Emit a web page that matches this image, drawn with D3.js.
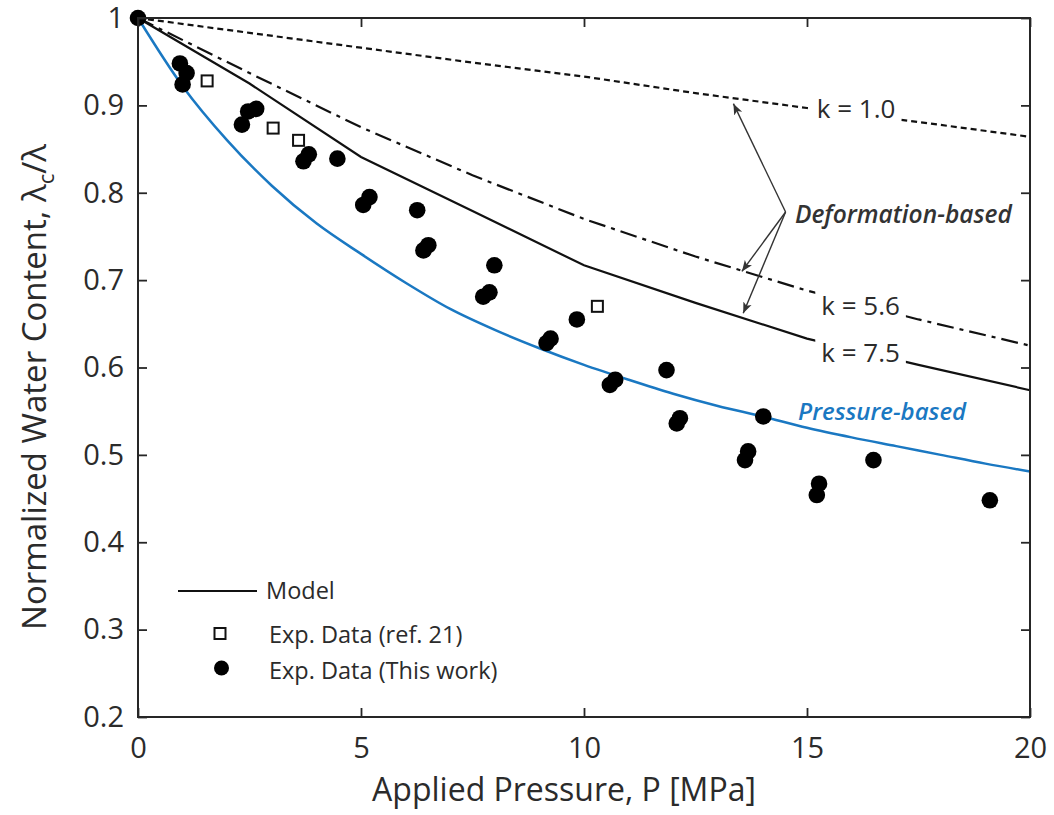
<!DOCTYPE html>
<html>
<head>
<meta charset="utf-8">
<script src="https://cdn.jsdelivr.net/npm/d3@7"></script>
<style>
  body { margin: 0; background: #fff; }
  svg { font-family: "Open Sans", sans-serif; }
</style>
</head>
<body>
<svg width="1054" height="815"></svg>
<script>
// ################################### Data #######################################

// Model curves (deformation-based), pressure in MPa
var pModel = [0, 2.5, 5, 7.5, 10, 12.5, 15, 17.5, 20];
var k10 = [1, 0.983, 0.966, 0.949, 0.933, 0.914, 0.897, 0.881, 0.864];
var k56 = [1, 0.937, 0.875, 0.82, 0.77, 0.727, 0.688, 0.655, 0.625];
var k75 = [1, 0.925, 0.841, 0.779, 0.717, 0.674, 0.633, 0.603, 0.574];

// Pressure-based model
var pPressure = [0, 1, 2, 3, 4, 5, 6, 7, 8, 9, 10, 11, 12, 13, 14, 15, 16, 17, 18, 19, 20];
var pressureBased = [1, 0.922, 0.86, 0.808, 0.765, 0.73, 0.697, 0.667, 0.643, 0.622, 0.603,
    0.586, 0.57, 0.556, 0.544, 0.531, 0.52, 0.51, 0.5, 0.49, 0.481];

// Exp. data (ref. 21)
var refP = [1.55, 3.03, 3.60, 10.30];
var refW = [0.928, 0.874, 0.860, 0.670];

// Exp. data (this work)
var expP = [0, 0.94, 1.09, 1.00, 2.33, 2.47, 2.65, 3.71, 3.83, 4.47, 5.05, 5.19, 6.26, 6.40, 6.51,
    7.99, 7.74, 7.88, 9.84, 9.16, 9.25, 10.58, 10.70, 11.85, 12.08, 12.15, 14.02, 13.61, 13.68,
    16.49, 15.22, 15.27, 19.10];
var expW = [1.0, 0.948, 0.937, 0.924, 0.878, 0.893, 0.896, 0.836, 0.844, 0.839, 0.786, 0.795, 0.780, 0.734, 0.740,
    0.717, 0.681, 0.686, 0.655, 0.628, 0.633, 0.580, 0.586, 0.597, 0.536, 0.542, 0.544, 0.494, 0.504,
    0.494, 0.454, 0.467, 0.448];

var xTicks = [0, 5, 10, 15, 20];
var yTicks = [0.2, 0.3, 0.4, 0.5, 0.6, 0.7, 0.8, 0.9, 1];

// ################################### Layout #######################################

var svg = d3.select('svg');
var plot = {l: 138, r: 1030, t: 18, b: 717};
var textColor = '#2b2b2b';
var blue = '#1a78c2';

var x = d3.scaleLinear().domain([0, 20]).range([plot.l, plot.r]);
var y = d3.scaleLinear().domain([0.2, 1]).range([plot.b, plot.t]);

function zip(xs, ys) {
    return xs.map(function(v, i) { return [v, ys[i]]; });
}

var line = d3.line()
    .x(function(d) { return x(d[0]); })
    .y(function(d) { return y(d[1]); });

var smoothLine = d3.line()
    .curve(d3.curveMonotoneX)
    .x(function(d) { return x(d[0]); })
    .y(function(d) { return y(d[1]); });

// arrow head
svg.append('defs').append('marker')
    .attr('id', 'arrow')
    .attr('viewBox', '0 0 10 10')
    .attr('refX', 10).attr('refY', 5)
    .attr('markerWidth', 11).attr('markerHeight', 11)
    .attr('markerUnits', 'userSpaceOnUse')
    .attr('orient', 'auto')
  .append('path')
    .attr('d', 'M0,1 L10,5 L0,9 L2.5,5 Z')
    .attr('fill', '#333');

// ################################### Curves #######################################

svg.append('path').datum(zip(pModel, k10))
    .attr('d', line).attr('fill', 'none')
    .attr('stroke', '#111').attr('stroke-width', 2.2)
    .attr('stroke-dasharray', '6,4');

svg.append('path').datum(zip(pModel, k56))
    .attr('d', line).attr('fill', 'none')
    .attr('stroke', '#111').attr('stroke-width', 2.2)
    .attr('stroke-dasharray', '17,6,4,6');

svg.append('path').datum(zip(pModel, k75))
    .attr('d', line).attr('fill', 'none')
    .attr('stroke', '#111').attr('stroke-width', 2.2);

svg.append('path').datum(zip(pPressure, pressureBased))
    .attr('d', smoothLine).attr('fill', 'none')
    .attr('stroke', blue).attr('stroke-width', 2.5);

// ################################### Curve labels #######################################

function curveLabel(px, pw, txt) {
    var g = svg.append('g');
    var t = g.append('text')
        .attr('x', x(px)).attr('y', y(pw))
        .attr('font-size', '26px')
        .attr('fill', textColor)
        .text(txt);
    var bb = t.node().getBBox();
    g.insert('rect', 'text')
        .attr('x', bb.x - 6).attr('y', bb.y + 3)
        .attr('width', bb.width + 12).attr('height', bb.height - 4)
        .attr('fill', '#fff');
}
curveLabel(15.22, 0.886, 'k = 1.0');
curveLabel(15.32, 0.66, 'k = 5.6');
curveLabel(15.32, 0.606, 'k = 7.5');

svg.append('text')
    .attr('x', x(14.73)).attr('y', y(0.765))
    .attr('font-size', '24.5px').attr('font-style', 'italic').attr('font-weight', 600)
    .attr('fill', '#333')
    .text('Deformation-based');

svg.append('text')
    .attr('x', x(14.8)).attr('y', y(0.54))
    .attr('font-size', '24px').attr('font-style', 'italic').attr('font-weight', 600)
    .attr('fill', blue)
    .text('Pressure-based');

// arrows from the "Deformation-based" label to the three curves
var arrowFrom = [14.52, 0.778];
var arrowTo = [[13.35, 0.902], [13.54, 0.71], [13.57, 0.662]];
arrowTo.forEach(function(d) {
    svg.append('line')
        .attr('x1', x(arrowFrom[0])).attr('y1', y(arrowFrom[1]))
        .attr('x2', x(d[0])).attr('y2', y(d[1]))
        .attr('stroke', '#333').attr('stroke-width', 1.4)
        .attr('marker-end', 'url(#arrow)');
});

// ################################### Markers #######################################

svg.append('g').selectAll('rect')
    .data(zip(refP, refW))
    .enter().append('rect')
    .attr('x', function(d) { return x(d[0]) - 5.5; })
    .attr('y', function(d) { return y(d[1]) - 5.5; })
    .attr('width', 11).attr('height', 11)
    .attr('fill', '#fff').attr('stroke', '#111').attr('stroke-width', 2);

svg.append('g').selectAll('circle')
    .data(zip(expP, expW))
    .enter().append('circle')
    .attr('cx', function(d) { return x(d[0]); })
    .attr('cy', function(d) { return y(d[1]); })
    .attr('r', 8.3)
    .attr('fill', '#000');

// ################################### Axes #######################################

var frame = '#262626';

svg.append('rect')
    .attr('x', plot.l).attr('y', plot.t)
    .attr('width', plot.r - plot.l).attr('height', plot.b - plot.t)
    .attr('fill', 'none').attr('stroke', frame).attr('stroke-width', 2);

var xAxis = svg.append('g')
    .attr('transform', 'translate(0,' + plot.b + ')')
    .call(d3.axisBottom(x).tickValues(xTicks).tickSize(-9).tickPadding(20));
var yAxis = svg.append('g')
    .attr('transform', 'translate(' + plot.l + ',0)')
    .call(d3.axisLeft(y).tickValues(yTicks).tickSize(-9).tickPadding(14)
        .tickFormat(function(d) { return d === 1 ? '1' : d.toFixed(1); }));
var xTop = svg.append('g')
    .attr('transform', 'translate(0,' + plot.t + ')')
    .call(d3.axisTop(x).tickValues(xTicks).tickSize(-9).tickFormat(''));
var yRight = svg.append('g')
    .attr('transform', 'translate(' + plot.r + ',0)')
    .call(d3.axisRight(y).tickValues(yTicks).tickSize(-9).tickFormat(''));

[xAxis, yAxis, xTop, yRight].forEach(function(a) {
    a.select('.domain').remove();
    a.selectAll('.tick line').attr('stroke', frame).attr('stroke-width', 1.8);
    a.selectAll('.tick text')
        .attr('font-family', '"Open Sans", sans-serif')
        .attr('font-size', '29px')
        .attr('fill', textColor);
});

// Axis titles
svg.append('text')
    .attr('x', 564).attr('y', 801)
    .attr('text-anchor', 'middle')
    .attr('font-size', '32px')
    .attr('fill', textColor)
    .text('Applied Pressure, P [MPa]');

var yTitle = svg.append('text')
    .attr('transform', 'translate(46,' + 387 + ') rotate(-90)')
    .attr('text-anchor', 'middle')
    .attr('font-size', '33px')
    .attr('fill', textColor);
yTitle.append('tspan').text('Normalized Water Content,  \u03bb');
yTitle.append('tspan').attr('font-size', '22px').attr('dy', 8).text('c');
yTitle.append('tspan').attr('dy', -8).text('/\u03bb');

// ################################### Legend #######################################

var legendG = svg.append('g');
legendG.append('line')
    .attr('x1', 178).attr('x2', 257).attr('y1', 591).attr('y2', 591)
    .attr('stroke', '#111').attr('stroke-width', 2.2);
legendG.append('text').attr('x', 266).attr('y', 599)
    .attr('font-size', '23.5px').attr('fill', textColor).text('Model');

legendG.append('rect')
    .attr('x', 214.5).attr('y', 628).attr('width', 11).attr('height', 11)
    .attr('fill', '#fff').attr('stroke', '#111').attr('stroke-width', 2);
legendG.append('text').attr('x', 269).attr('y', 643)
    .attr('font-size', '23.5px').attr('fill', textColor).text('Exp. Data (ref. 21)');

legendG.append('circle')
    .attr('cx', 221.5).attr('cy', 668).attr('r', 7.5)
    .attr('fill', '#000');
legendG.append('text').attr('x', 269).attr('y', 679)
    .attr('font-size', '23.5px').attr('fill', textColor).text('Exp. Data (This work)');
</script>
</body>
</html>
